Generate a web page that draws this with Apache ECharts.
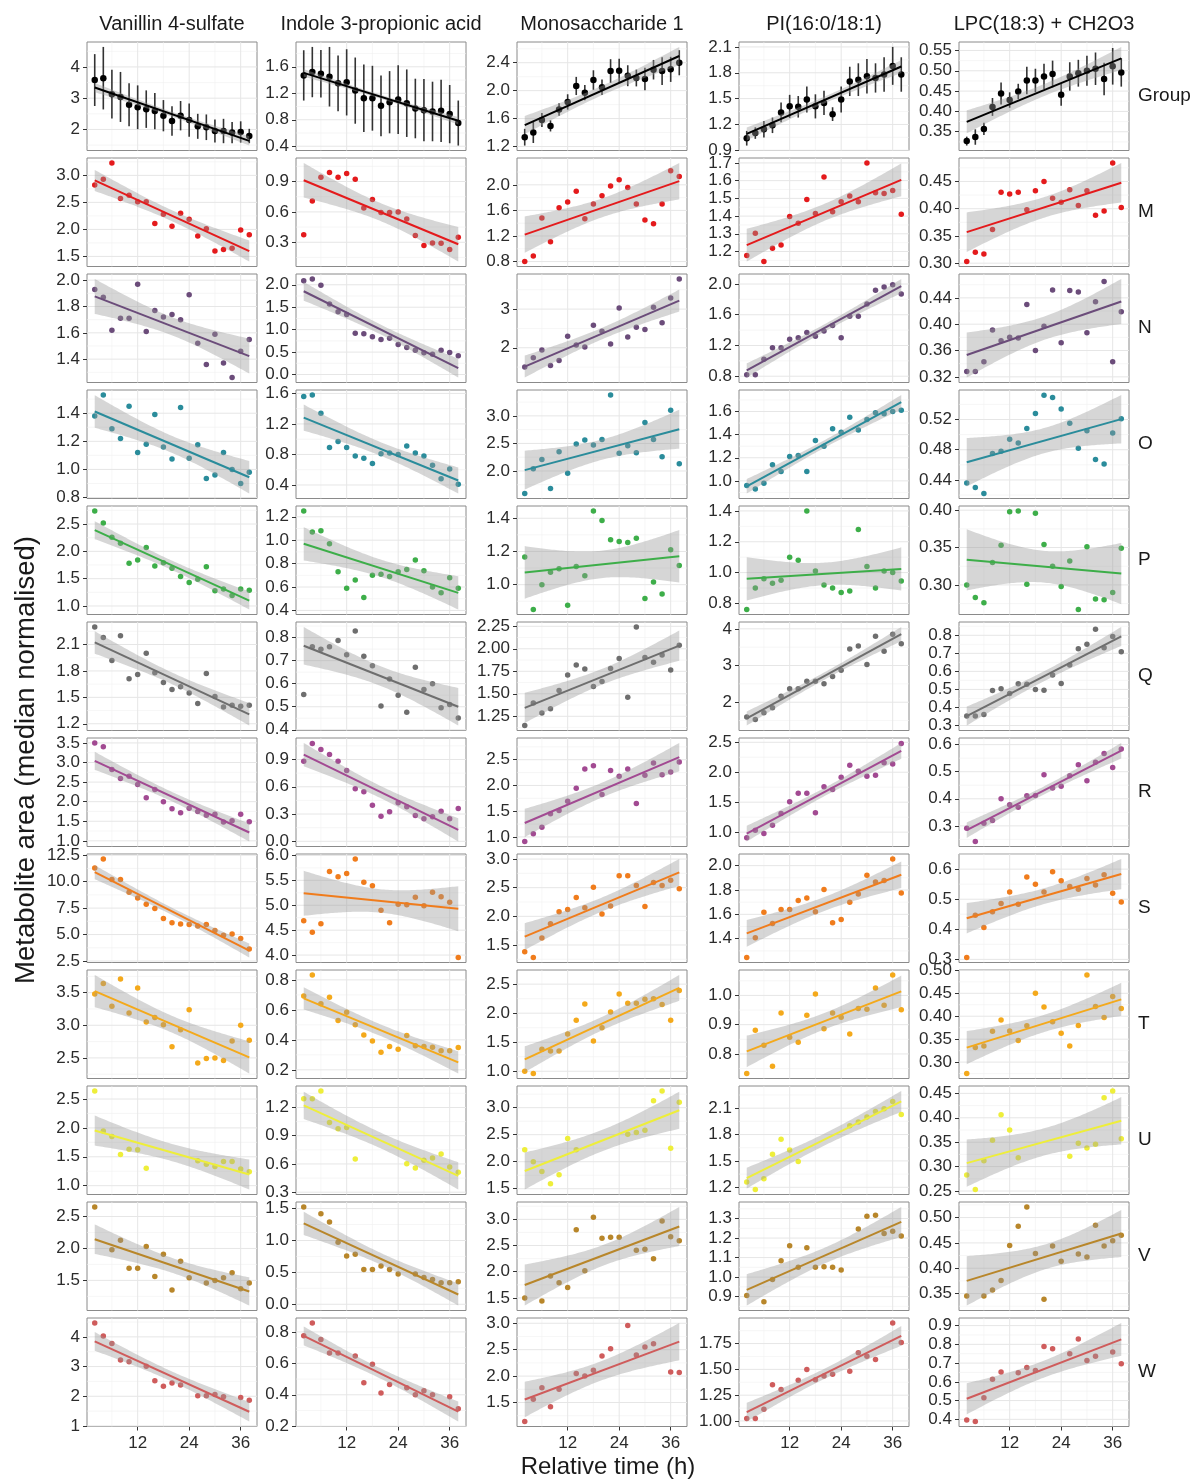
<!DOCTYPE html>
<html><head><meta charset="utf-8">
<script src="https://cdn.jsdelivr.net/npm/echarts@6/dist/echarts.min.js"></script>
<style>html,body{margin:0;padding:0;background:#fff}#chart{width:1193px;height:1480px}</style>
</head><body><div id="chart"></div>
<script>
// ---------------- DATA ----------------
const times = [2,4,6,8,10,12,14,16,18,20,22,24,26,28,30,32,34,36,38];
const xTicks = [12,24,36];
const metabolites = ["Vanillin 4-sulfate","Indole 3-propionic acid","Monosaccharide 1","PI(16:0/18:1)","LPC(18:3) + CH2O3"];
const rowNames = ["Group","M","N","O","P","Q","R","S","T","U","V","W"];
const rowColors = ["#000000","#E41A1C","#6B4C7A","#2A8C9B","#3DAE49","#6E6E6E","#A24A92","#F07C1C","#F4A91B","#EEEE3A","#B8862A","#CF5C5C"];

// Group: mean and standard error per time point
const G1_mean = [3.58,3.64,3.13,3.04,2.79,2.71,2.65,2.59,2.44,2.27,2.44,2.30,2.10,2.07,1.95,1.95,1.90,1.92,1.79];
const G1_se   = [0.83,1.00,0.78,0.80,0.69,0.70,0.60,0.58,0.50,0.47,0.47,0.53,0.40,0.41,0.37,0.39,0.34,0.34,0.23];
const G2_mean = [1.47,1.52,1.495,1.45,1.35,1.365,1.24,1.125,1.125,1.01,1.065,1.105,1.05,0.97,0.945,0.925,0.935,0.885,0.75];
const G2_se   = [0.38,0.38,0.36,0.45,0.42,0.50,0.50,0.51,0.49,0.46,0.47,0.52,0.51,0.45,0.47,0.45,0.47,0.44,0.34];
const G3_mean = [1.333,1.40,1.58,1.495,1.73,1.838,2.067,1.971,2.152,2.048,2.281,2.286,2.214,2.181,2.167,2.30,2.28,2.305,2.40];
const G3_se   = [0.12,0.15,0.10,0.08,0.09,0.11,0.13,0.11,0.14,0.11,0.17,0.17,0.15,0.12,0.16,0.14,0.20,0.18,0.18];
const G4_mean = [1.04,1.10,1.145,1.19,1.34,1.41,1.405,1.49,1.41,1.45,1.32,1.49,1.70,1.72,1.76,1.74,1.78,1.88,1.78];
const G4_se   = [0.085,0.067,0.095,0.09,0.115,0.134,0.125,0.15,0.14,0.14,0.08,0.15,0.17,0.19,0.20,0.17,0.20,0.22,0.20];
const G5_mean = [0.327,0.337,0.357,0.411,0.444,0.428,0.449,0.476,0.476,0.486,0.492,0.441,0.486,0.494,0.500,0.505,0.480,0.511,0.496];
const G5_se   = [0.011,0.019,0.015,0.022,0.027,0.019,0.019,0.034,0.029,0.031,0.033,0.027,0.035,0.033,0.037,0.040,0.040,0.045,0.035];

// Subjects (columns 1..5 = metabolites)
const M1 = [2.82,2.93,3.23,2.57,2.63,2.51,2.51,2.11,2.28,2.06,2.30,2.19,1.88,2.01,1.60,1.63,1.65,1.99,1.90];
const M2 = [0.375,0.707,0.943,0.989,0.943,0.979,0.923,0.638,0.723,0.595,0.595,0.60,0.53,0.366,0.267,0.293,0.29,0.228,0.349];
const M3 = [0.80,0.886,1.48,1.11,1.64,1.73,1.90,1.47,1.70,1.83,1.98,2.08,1.96,1.70,1.45,1.39,1.70,2.22,2.13];
const M4 = [1.178,1.303,1.144,1.219,1.237,1.397,1.359,1.494,1.415,1.621,1.425,1.481,1.513,1.481,1.70,1.531,1.528,1.545,1.41];
const M5 = [0.303,0.32,0.317,0.362,0.43,0.427,0.43,0.398,0.433,0.45,0.419,0.412,0.435,0.406,0.433,0.388,0.396,0.484,0.402];

const N1 = [1.93,1.87,1.62,1.71,1.71,1.97,1.61,1.77,1.72,1.74,1.70,1.89,1.52,1.36,1.59,1.37,1.26,1.46,1.55];
const N2 = [2.09,2.13,1.99,1.57,1.40,1.34,0.92,0.91,0.84,0.78,0.81,0.67,0.60,0.54,0.485,0.45,0.54,0.49,0.42];
const N3 = [1.50,1.74,1.94,1.54,1.67,2.30,2.07,2.02,2.58,2.43,2.10,3.03,2.28,2.53,2.47,3.05,2.65,3.29,3.78];
const N4 = [0.82,0.82,1.02,1.17,1.17,1.28,1.30,1.37,1.32,1.39,1.46,1.30,1.58,1.58,1.74,1.92,1.96,1.99,1.87];
const N5 = [0.328,0.328,0.343,0.391,0.375,0.380,0.379,0.430,0.360,0.397,0.452,0.372,0.451,0.449,0.387,0.434,0.465,0.343,0.419];

const O1 = [1.38,1.53,1.29,1.22,1.45,1.12,1.18,1.39,1.16,1.075,1.44,1.08,1.175,0.935,0.96,1.12,1.00,0.90,0.98];
const O2 = [1.56,1.58,1.34,0.89,0.97,0.89,0.78,0.75,0.68,0.81,0.82,0.80,0.91,0.82,0.78,0.66,0.48,0.61,0.41];
const O3 = [1.59,2.04,2.21,1.68,2.35,1.96,2.49,2.56,2.47,2.57,3.38,2.32,2.46,2.33,2.88,2.57,2.26,3.10,2.13];
const O4 = [0.96,0.93,0.98,1.14,1.08,1.21,1.22,1.08,1.35,1.30,1.45,1.42,1.55,1.44,1.53,1.59,1.58,1.60,1.61];
const O5 = [0.436,0.43,0.422,0.475,0.478,0.494,0.489,0.508,0.528,0.552,0.549,0.534,0.515,0.482,0.505,0.467,0.461,0.502,0.521];

const P1 = [2.74,2.52,2.26,2.15,1.78,1.84,2.07,1.73,1.79,1.69,1.54,1.43,1.49,1.72,1.28,1.31,1.19,1.31,1.29];
const P2 = [1.25,1.07,1.08,0.97,0.73,0.59,0.66,0.51,0.70,0.71,0.69,0.73,0.75,0.83,0.74,0.60,0.55,0.68,0.59];
const P3 = [1.166,0.85,1.0,1.074,1.096,0.876,1.11,1.054,1.444,1.386,1.27,1.26,1.254,1.28,0.916,1.016,0.944,1.21,1.116];
const P4 = [0.76,0.90,0.96,0.93,0.95,1.10,1.08,1.40,1.01,0.92,0.90,0.87,0.88,1.28,1.04,0.90,1.01,1.00,0.945];
const P5 = [0.300,0.283,0.276,0.330,0.353,0.398,0.399,0.301,0.396,0.354,0.325,0.298,0.332,0.267,0.351,0.281,0.280,0.290,0.349];

const Q1 = [2.30,2.18,1.92,2.20,1.71,1.76,2.00,1.78,1.67,1.59,1.62,1.55,1.43,1.77,1.51,1.39,1.41,1.40,1.41];
const Q2 = [0.553,0.76,0.749,0.76,0.787,0.726,0.829,0.719,0.678,0.503,0.62,0.55,0.476,0.671,0.575,0.60,0.496,0.51,0.451];
const Q3 = [1.147,1.397,1.287,1.335,1.537,1.71,1.82,1.776,1.58,1.636,1.78,1.893,1.463,2.243,1.904,1.85,1.93,1.765,2.04];
const Q4 = [1.6,1.53,1.71,1.85,2.16,2.37,2.37,2.57,2.57,2.5,2.7,2.87,3.45,3.53,3.03,3.8,3.39,3.85,3.59];
const Q5 = [0.352,0.352,0.361,0.494,0.504,0.478,0.531,0.528,0.50,0.496,0.58,0.533,0.635,0.726,0.75,0.833,0.731,0.793,0.709];

const R1 = [3.50,3.40,2.82,2.59,2.65,2.44,2.10,2.31,2.00,1.82,1.72,1.83,1.75,1.65,1.68,1.48,1.51,1.68,1.49];
const R2 = [0.882,1.076,1.01,0.955,0.882,0.779,0.578,0.545,0.398,0.277,0.325,0.424,0.38,0.285,0.248,0.27,0.332,0.248,0.362];
const R3 = [0.91,1.064,1.19,1.45,1.515,1.695,1.946,2.32,2.384,1.824,2.29,2.18,2.32,1.65,2.20,2.436,2.21,2.26,2.455];
const R4 = [0.906,1.033,0.978,1.117,1.311,1.506,1.65,1.65,1.322,1.756,1.711,1.917,2.117,2.017,1.933,1.95,2.16,2.139,2.478];
const R5 = [0.291,0.242,0.31,0.32,0.40,0.378,0.369,0.411,0.412,0.489,0.44,0.446,0.485,0.526,0.467,0.535,0.567,0.516,0.584];

const S1 = [11.3,12.15,10.21,10.21,9.01,8.46,7.86,7.47,6.51,6.11,5.99,5.96,5.81,5.96,5.39,4.94,5.06,4.64,3.64];
const S2 = [4.69,4.46,4.63,5.68,5.57,5.64,5.93,5.46,5.39,4.90,4.65,5.02,5.01,5.16,4.99,5.26,5.17,5.06,3.95];
const S3 = [1.38,1.28,1.62,1.87,2.08,2.12,2.33,2.15,2.51,2.04,2.18,2.71,2.71,2.54,2.17,2.59,2.54,2.63,2.48];
const S4 = [1.245,1.408,1.618,1.525,1.64,1.64,1.714,1.735,1.621,1.804,1.531,1.558,1.70,1.768,1.921,1.866,1.877,2.055,1.776];
const S5 = [0.306,0.447,0.406,0.458,0.486,0.524,0.483,0.574,0.55,0.524,0.591,0.561,0.542,0.533,0.569,0.547,0.581,0.52,0.491];

const T1 = [3.48,3.64,3.29,3.71,3.19,3.57,3.05,3.12,3.01,2.67,2.93,3.24,2.42,2.49,2.50,2.46,2.76,3.00,2.77];
const T2 = [0.693,0.833,0.64,0.684,0.529,0.584,0.50,0.433,0.393,0.318,0.356,0.338,0.429,0.36,0.356,0.351,0.327,0.327,0.349];
const T3 = [1.0,0.96,1.38,1.35,1.35,1.64,1.88,2.16,1.52,1.75,2.02,2.33,2.17,2.17,2.24,2.25,2.15,1.88,2.39];
const T4 = [0.733,0.881,0.83,0.758,0.94,0.857,0.84,0.932,1.005,0.886,0.94,0.925,0.868,0.955,0.953,1.025,0.966,1.07,0.951];
const T5 = [0.275,0.332,0.335,0.367,0.392,0.368,0.347,0.379,0.45,0.42,0.388,0.363,0.335,0.38,0.49,0.421,0.397,0.443,0.417];

const U1 = [2.64,1.945,1.85,1.54,1.63,1.62,1.30,null,null,null,null,null,1.43,1.37,1.33,1.42,1.42,1.29,1.24];
const U2 = [1.292,1.292,1.376,1.041,0.974,0.988,0.653,null,null,null,null,null,0.603,0.558,0.64,0.663,0.706,0.568,0.512];
const U3 = [2.22,2.0,1.82,1.59,1.76,2.43,2.22,null,null,null,null,null,2.51,2.54,2.58,3.13,3.31,2.25,3.10];
const U4 = [1.26,1.174,1.298,1.575,1.748,1.624,1.493,null,null,null,null,null,1.9,1.943,1.999,2.063,2.093,2.175,2.029];
const U5 = [0.283,0.253,0.312,0.354,0.406,0.375,0.318,null,null,null,null,null,0.321,0.348,0.338,0.346,0.441,0.455,0.357];

const V1 = [2.65,null,1.98,2.13,1.69,1.69,2.03,1.56,1.91,1.35,1.80,1.54,null,1.46,1.50,1.54,1.62,1.37,1.46];
const V2 = [1.526,null,1.42,1.29,0.974,0.758,0.784,0.547,0.547,0.60,0.547,0.474,null,0.474,0.421,0.39,0.337,0.337,0.353];
const V3 = [1.50,null,1.44,1.92,1.79,1.70,2.80,2.02,3.04,2.64,2.66,2.66,null,2.41,2.43,2.25,2.97,2.67,2.59];
const V4 = [0.905,null,0.874,0.988,1.084,1.16,1.05,1.15,1.05,1.053,1.05,1.036,null,1.246,1.312,1.317,1.223,1.235,1.211];
const V5 = [0.345,null,0.345,0.357,0.376,0.445,0.483,0.521,0.429,0.339,0.444,0.414,null,0.428,0.422,0.485,0.444,0.454,0.465];

const W1 = [4.47,4.03,3.78,3.22,3.16,null,3.01,2.52,2.34,2.45,2.38,null,2.02,2.02,2.06,1.98,null,1.96,1.87];
const W2 = [0.775,0.857,0.751,0.666,0.666,null,0.647,0.476,0.594,0.412,0.465,null,0.444,0.40,0.425,0.40,null,0.387,0.312];
const W3 = [1.14,1.56,1.78,1.42,1.75,null,2.05,2.0,2.11,2.38,2.52,null,2.96,2.40,2.55,2.61,null,2.08,2.07];
const W4 = [1.023,1.023,1.113,1.352,1.304,null,1.394,1.498,1.40,1.436,1.453,null,1.482,1.66,1.627,1.595,null,1.95,1.76];
const W5 = [0.396,0.388,0.515,0.614,0.653,null,0.649,0.676,0.661,0.789,0.776,null,0.75,0.829,0.714,0.736,null,0.759,0.697];

// y tick labels per row (columns 1..5)
const ticks_Group = [["2","3","4"],["0.4","0.8","1.2","1.6"],["1.2","1.6","2.0","2.4"],["0.9","1.2","1.5","1.8","2.1"],["0.35","0.40","0.45","0.50","0.55"]];
const ticks_M = [["1.5","2.0","2.5","3.0"],["0.3","0.6","0.9"],["0.8","1.2","1.6","2.0"],["1.2","1.3","1.4","1.5","1.6","1.7"],["0.30","0.35","0.40","0.45"]];
const ticks_N = [["1.4","1.6","1.8","2.0"],["0.0","0.5","1.0","1.5","2.0"],["2","3"],["0.8","1.2","1.6","2.0"],["0.32","0.36","0.40","0.44"]];
const ticks_O = [["0.8","1.0","1.2","1.4"],["0.4","0.8","1.2","1.6"],["2.0","2.5","3.0"],["1.0","1.2","1.4","1.6"],["0.44","0.48","0.52"]];
const ticks_P = [["1.0","1.5","2.0","2.5"],["0.4","0.6","0.8","1.0","1.2"],["1.0","1.2","1.4"],["0.8","1.0","1.2","1.4"],["0.30","0.35","0.40"]];
const ticks_Q = [["1.2","1.5","1.8","2.1"],["0.4","0.5","0.6","0.7","0.8"],["1.25","1.50","1.75","2.00","2.25"],["2","3","4"],["0.3","0.4","0.5","0.6","0.7","0.8"]];
const ticks_R = [["1.0","1.5","2.0","2.5","3.0","3.5"],["0.0","0.3","0.6","0.9"],["1.0","1.5","2.0","2.5"],["1.0","1.5","2.0","2.5"],["0.3","0.4","0.5","0.6"]];
const ticks_S = [["2.5","5.0","7.5","10.0","12.5"],["4.0","4.5","5.0","5.5","6.0"],["1.5","2.0","2.5","3.0"],["1.4","1.6","1.8","2.0"],["0.3","0.4","0.5","0.6"]];
const ticks_T = [["2.5","3.0","3.5"],["0.2","0.4","0.6","0.8"],["1.0","1.5","2.0","2.5"],["0.8","0.9","1.0"],["0.30","0.35","0.40","0.45","0.50"]];
const ticks_U = [["1.0","1.5","2.0","2.5"],["0.3","0.6","0.9","1.2"],["1.5","2.0","2.5","3.0"],["1.2","1.5","1.8","2.1"],["0.25","0.30","0.35","0.40","0.45"]];
const ticks_V = [["1.5","2.0","2.5"],["0.0","0.5","1.0","1.5"],["1.5","2.0","2.5","3.0"],["0.9","1.0","1.1","1.2","1.3"],["0.35","0.40","0.45","0.50"]];
const ticks_W = [["1","2","3","4"],["0.2","0.4","0.6","0.8"],["1.5","2.0","2.5","3.0"],["1.00","1.25","1.50","1.75"],["0.4","0.5","0.6","0.7","0.8","0.9"]];

// ---------------- ASSEMBLY ----------------
const groupMeans = [G1_mean,G2_mean,G3_mean,G4_mean,G5_mean];
const groupSEs = [G1_se,G2_se,G3_se,G4_se,G5_se];
const subjectRows = [
  [M1,M2,M3,M4,M5],[N1,N2,N3,N4,N5],[O1,O2,O3,O4,O5],[P1,P2,P3,P4,P5],
  [Q1,Q2,Q3,Q4,Q5],[R1,R2,R3,R4,R5],[S1,S2,S3,S4,S5],[T1,T2,T3,T4,T5],
  [U1,U2,U3,U4,U5],[V1,V2,V3,V4,V5],[W1,W2,W3,W4,W5]
];
const tickRows = [ticks_Group,ticks_M,ticks_N,ticks_O,ticks_P,ticks_Q,ticks_R,ticks_S,ticks_T,ticks_U,ticks_V,ticks_W];

const tq = {8:2.306,9:2.262,10:2.228,11:2.201,12:2.179,13:2.160,14:2.145,15:2.131,16:2.120,17:2.110,18:2.101,19:2.093,20:2.086};

const FONT = '"Liberation Sans", Arial, Helvetica, sans-serif';
const colLeft = [87, 296, 517, 739, 959];
const panelW = 170, panelH = 108.5, rowTop0 = 42, rowStep = 116;
const XMIN = 0.2, XMAX = 39.8;

function lmBand(xs, ys) {
  const n = xs.length;
  const xbar = xs.reduce((a,b)=>a+b,0)/n;
  const ybar = ys.reduce((a,b)=>a+b,0)/n;
  let sxx=0, sxy=0;
  for (let i=0;i<n;i++){ sxx += (xs[i]-xbar)**2; sxy += (xs[i]-xbar)*(ys[i]-ybar); }
  const b = sxy/sxx, a = ybar - b*xbar;
  let sse=0; for (let i=0;i<n;i++){ sse += (ys[i]-(a+b*xs[i]))**2; }
  const s = Math.sqrt(sse/(n-2));
  const t = tq[n-2] || 2.1;
  const x0 = Math.min(...xs), x1 = Math.max(...xs);
  const band = [];
  for (let k=0;k<80;k++){
    const x = x0 + (x1-x0)*k/79;
    const yh = a + b*x;
    const se = s*Math.sqrt(1/n + (x-xbar)**2/sxx);
    band.push([x, yh - t*se, yh + t*se]);
  }
  return {a, b, x0, x1, band};
}

const grids=[], xAxes=[], yAxes=[], series=[];

for (let r=0; r<12; r++){
  for (let c=0; c<5; c++){
    const idx = r*5+c;
    const color = rowColors[r];
    let xs=[], ys=[], errLo=[], errHi=[];
    if (r===0){
      times.forEach((t,i)=>{ xs.push(t); ys.push(groupMeans[c][i]); errLo.push(groupMeans[c][i]-groupSEs[c][i]); errHi.push(groupMeans[c][i]+groupSEs[c][i]); });
    } else {
      const arr = subjectRows[r-1][c];
      times.forEach((t,i)=>{ if (arr[i]!==null && arr[i]!==undefined){ xs.push(t); ys.push(arr[i]); } });
    }
    const fit = lmBand(xs, ys);
    let lo = Math.min(...ys, ...fit.band.map(d=>d[1]), ...(errLo.length?errLo:[Infinity]));
    let hi = Math.max(...ys, ...fit.band.map(d=>d[2]), ...(errHi.length?errHi:[-Infinity]));
    const pad = (hi-lo)*0.05;
    const ymin = lo-pad, ymax = hi+pad;
    const tol = (ymax-ymin)*0.025;
    const tickStr = tickRows[r][c].filter(s=>{const v=parseFloat(s); return v>=ymin-tol && v<=ymax+tol;});
    const tickVals = tickStr.map(parseFloat);
    const allTickVals = tickRows[r][c].map(parseFloat);
    // minor breaks
    const step = allTickVals.length>1 ? allTickVals[1]-allTickVals[0] : 1;
    const minor = [];
    for (let v = allTickVals[0]-step; v <= allTickVals[allTickVals.length-1]+step+1e-9; v+=step){
      const m = v + step/2;
      if (m>ymin && m<ymax) minor.push(m);
    }
    const majorIn = allTickVals.filter(v=>v>ymin && v<ymax);

    grids.push({left: colLeft[c], top: rowTop0 + r*rowStep, width: panelW, height: panelH,
      show:true, borderColor:'#8a8a8a', borderWidth:1, backgroundColor:'#ffffff', containLabel:false});
    const isBottom = (r===11);
    xAxes.push({gridIndex: idx, type:'value', min: XMIN, max: XMAX,
      splitLine:{show:false}, axisLine:{show:false, onZero:false},
      axisTick:{show:isBottom, customValues:xTicks, length:4, lineStyle:{color:'#333', width:1}},
      axisLabel:{show:isBottom, customValues:xTicks, fontSize:17, color:'#2b2b2b', margin:8, fontFamily:FONT}
    });
    yAxes.push({gridIndex: idx, type:'value', min: ymin, max: ymax,
      splitLine:{show:false}, axisLine:{show:false, onZero:false},
      axisTick:{show:true, customValues:tickVals, length:4, lineStyle:{color:'#333', width:1}},
      axisLabel:{show:true, customValues:tickVals, fontSize:17, color:'#2b2b2b', margin:7, fontFamily:FONT,
        formatter: (v)=>{ for (const s of tickStr){ if (Math.abs(parseFloat(s)-v)<1e-6) return s; } return ''; } }
    });

    const midY = (ymin+ymax)/2;
    // grid lines
    series.push({type:'custom', xAxisIndex: idx, yAxisIndex: idx, silent:true, z:1,
      data:[[20, midY]],
      renderItem: (params, api)=>{
        const cs = params.coordSys;
        const ch = [];
        const hline = (v, w, col)=>{ const p = api.coord([20, v]); ch.push({type:'line', shape:{x1:cs.x, y1:p[1], x2:cs.x+cs.width, y2:p[1]}, style:{stroke:col, lineWidth:w}}); };
        const vline = (v, w, col)=>{ const p = api.coord([v, midY]); ch.push({type:'line', shape:{x1:p[0], y1:cs.y, x2:p[0], y2:cs.y+cs.height}, style:{stroke:col, lineWidth:w}}); };
        minor.forEach(v=>hline(v,0.6,'#f0f0f0'));
        [6,18,30].forEach(v=>vline(v,0.6,'#f0f0f0'));
        majorIn.forEach(v=>hline(v,1,'#e6e6e6'));
        xTicks.forEach(v=>vline(v,1,'#e6e6e6'));
        return {type:'group', children: ch};
      }
    });
    // error bars (group row)
    if (r===0){
      series.push({type:'custom', xAxisIndex: idx, yAxisIndex: idx, silent:true, z:2,
        data: xs.map((t,i)=>[t, errLo[i], errHi[i]]),
        encode:{x:0, y:[1,2]},
        renderItem: (params, api)=>{
          const x = api.value(0);
          const p1 = api.coord([x, api.value(1)]);
          const p2 = api.coord([x, api.value(2)]);
          return {type:'line', shape:{x1:p1[0], y1:p1[1], x2:p2[0], y2:p2[1]}, style:{stroke:'#333333', lineWidth:1.6}};
        }
      });
    }
    // points
    series.push({type:'scatter', xAxisIndex: idx, yAxisIndex: idx, silent:true, z:3,
      data: xs.map((t,i)=>[t, ys[i]]),
      symbolSize: r===0 ? 6.5 : 5.5,
      itemStyle:{color: color, opacity:1}
    });
    // confidence band
    const band = fit.band;
    series.push({type:'custom', xAxisIndex: idx, yAxisIndex: idx, silent:true, z:4,
      data:[[20, midY]],
      renderItem: (params, api)=>{
        const pts = [];
        band.forEach(d=>pts.push(api.coord([d[0], d[2]])));
        for (let k=band.length-1;k>=0;k--) pts.push(api.coord([band[k][0], band[k][1]]));
        return {type:'polygon', shape:{points: pts}, style:{fill:'rgba(153,153,153,0.4)'}};
      }
    });
    // fitted line
    series.push({type:'line', xAxisIndex: idx, yAxisIndex: idx, silent:true, z:5,
      data: [[fit.x0, fit.a+fit.b*fit.x0],[fit.x1, fit.a+fit.b*fit.x1]],
      symbol:'none', lineStyle:{color: color, width:2}, itemStyle:{color:color}
    });
  }
}

const graphics = [];
metabolites.forEach((m,c)=>{
  graphics.push({type:'text', x: colLeft[c]+panelW/2, y: 24, silent:true,
    style:{text:m, fontSize:20, fontFamily:FONT, fill:'#1a1a1a', align:'center', verticalAlign:'middle', textAlign:'center', textVerticalAlign:'middle'}});
});
rowNames.forEach((nm,r)=>{
  graphics.push({type:'text', x: 1138, y: rowTop0 + r*rowStep + panelH/2, silent:true,
    style:{text:nm, fontSize:19, fontFamily:FONT, fill:'#1a1a1a', align:'left', verticalAlign:'middle', textAlign:'left', textVerticalAlign:'middle'}});
});
graphics.push({type:'text', x: 608, y: 1467, silent:true,
  style:{text:'Relative time (h)', fontSize:24, fontFamily:FONT, fill:'#1a1a1a', align:'center', verticalAlign:'middle', textAlign:'center', textVerticalAlign:'middle'}});
graphics.push({type:'text', x: 26, y: 760, rotation: Math.PI/2, silent:true,
  style:{text:'Metabolite area (median normalised)', fontSize:27.5, fontFamily:FONT, fill:'#1a1a1a', align:'center', verticalAlign:'middle', textAlign:'center', textVerticalAlign:'middle'}});

const chart = echarts.init(document.getElementById('chart'), null, {renderer:'canvas'});
chart.setOption({
  animation:false,
  backgroundColor:'#ffffff',
  textStyle:{fontFamily:FONT},
  grid: grids, xAxis: xAxes, yAxis: yAxes, series: series,
  graphic: graphics
});
</script>
</body></html>
